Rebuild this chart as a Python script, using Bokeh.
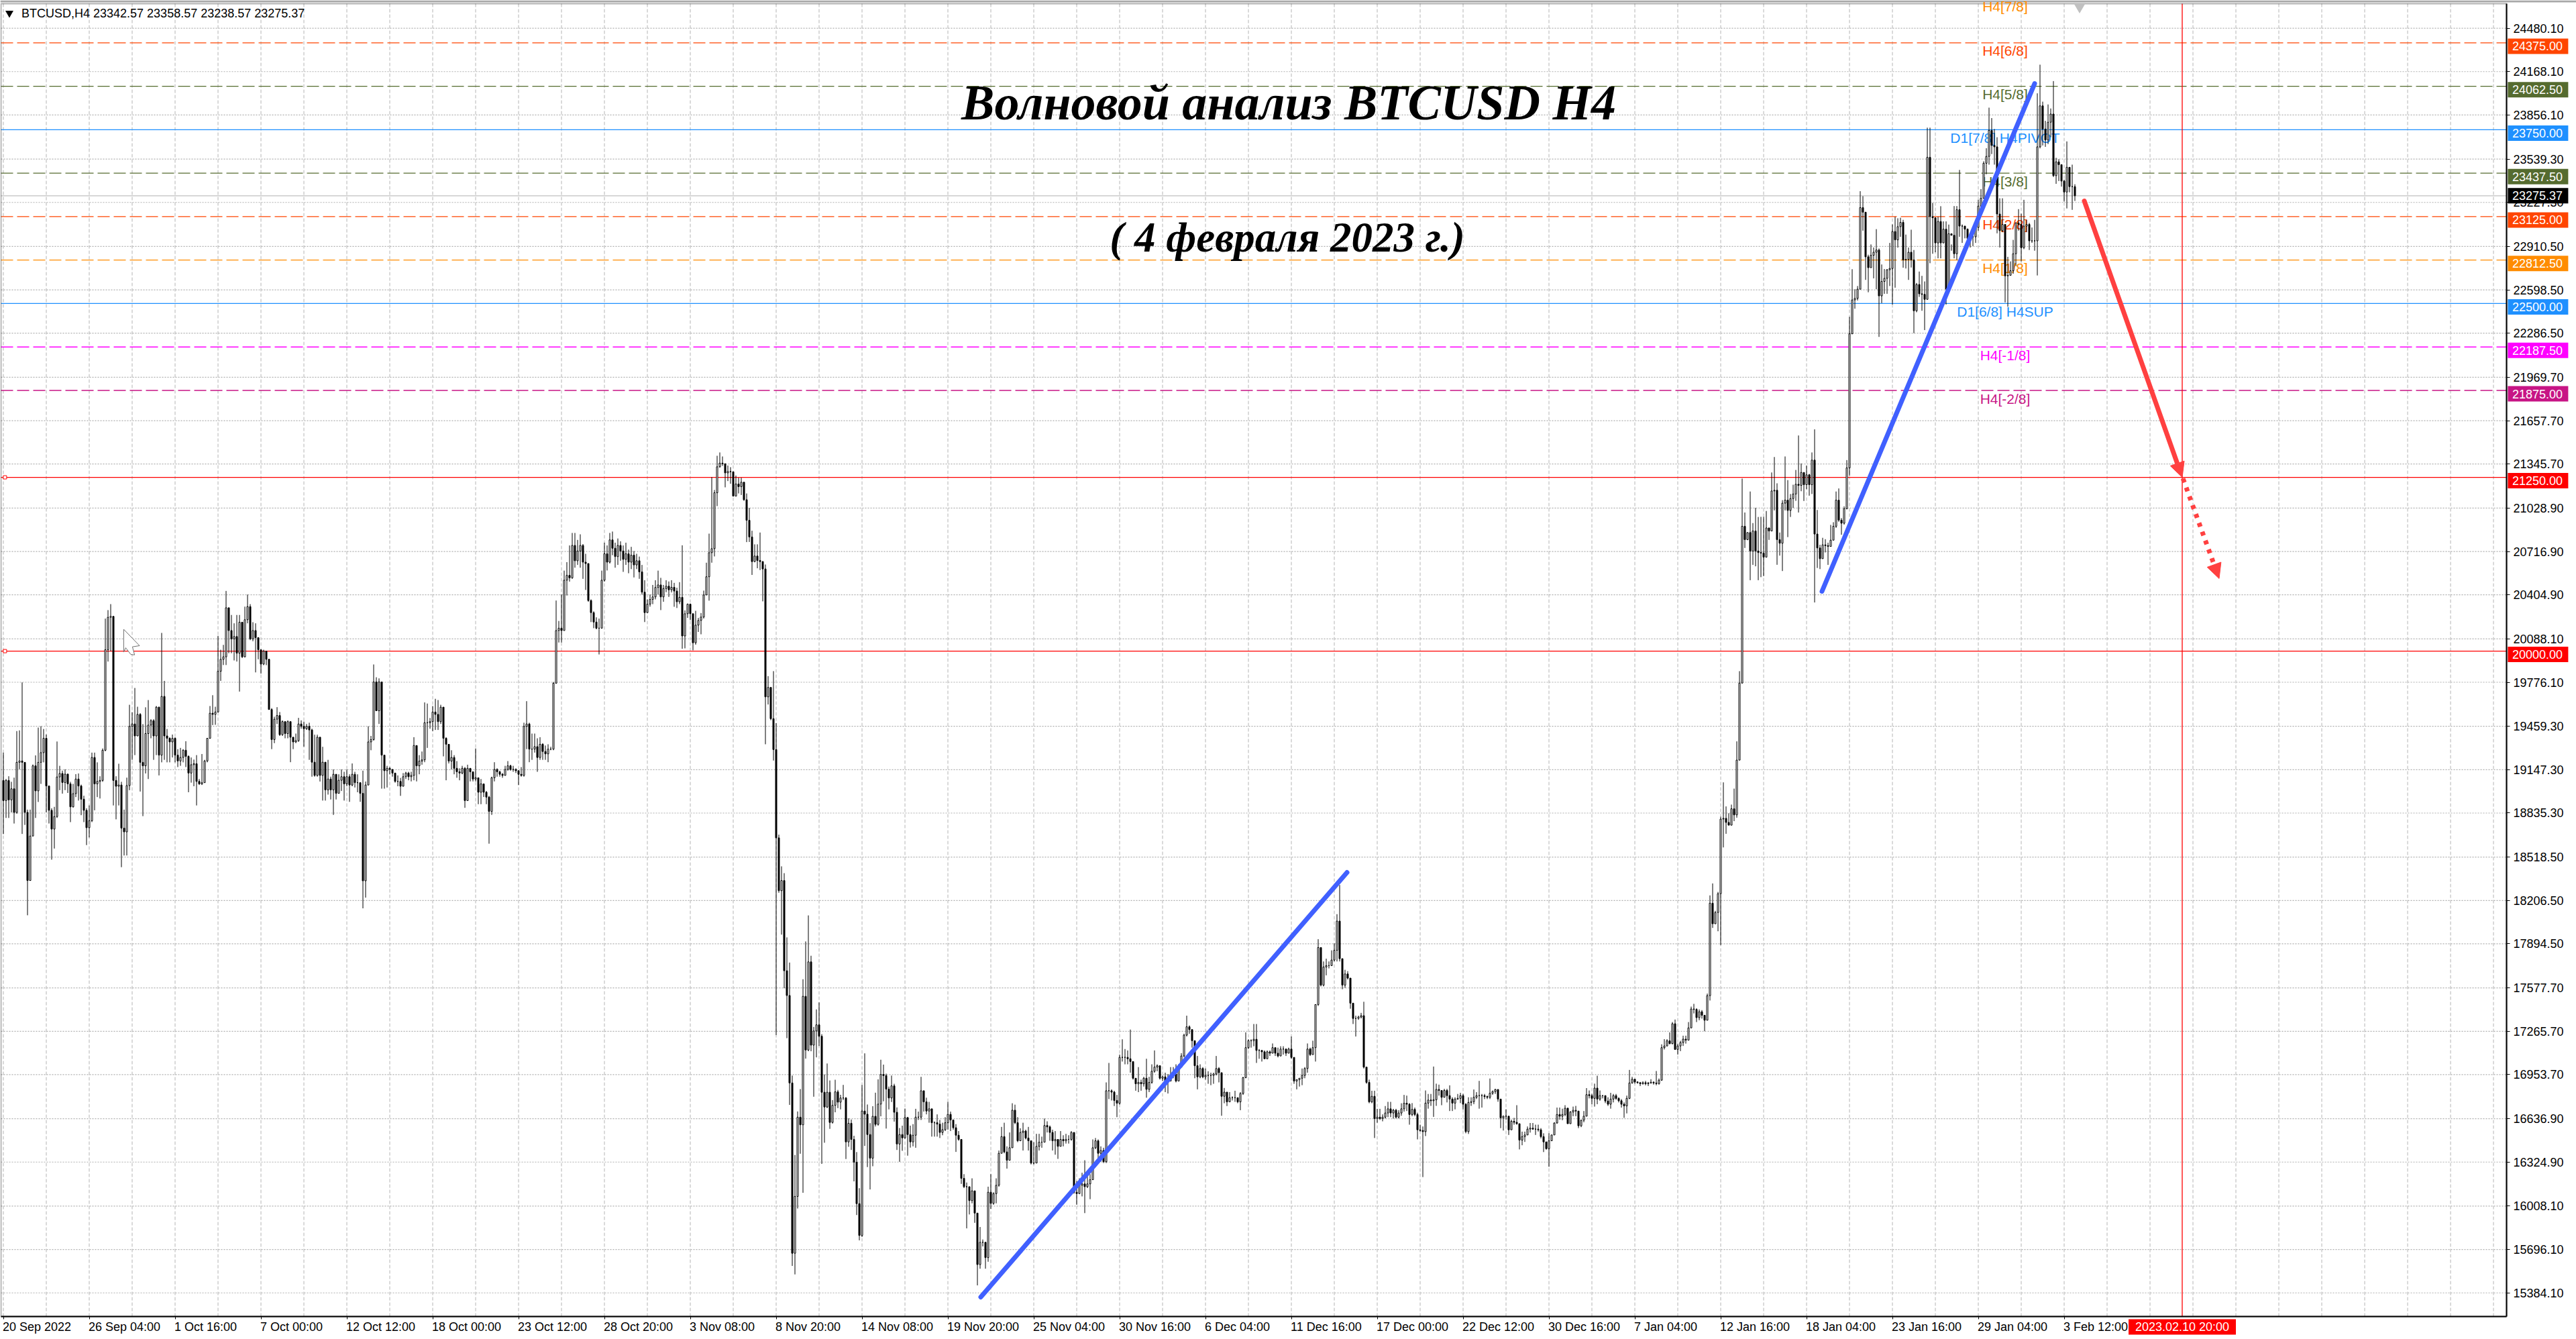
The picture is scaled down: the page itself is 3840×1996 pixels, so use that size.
from bokeh.embed import file_html
from bokeh.resources import INLINE
from bokeh.plotting import figure
from bokeh.models import (Range1d, FixedTicker, LinearAxis, Label, Arrow, NormalHead, BoxAnnotation)

c1 = [18925,19070,18930,19010,18840,19200,19210,19200,18840,18350,18670,19175,18995,19200,19270,19373,19030,18855,18720,18810,19095,19120,19055,19115,19045,18880,18975,19080,19030,18935,18855,18730,18780,19235,19045,19063,19070,19287,20010,20243,20250,19070,19028,19037,18727,18700,19033,19459,19476,19390]
h1 = [19270,19080,19100,19060,19090,19425,19430,19775,19200,18860,18860,19185,19250,19450,19460,19440,19400,19030,18870,18880,19350,19175,19140,19150,19120,19060,19045,19115,19120,19040,18960,18870,18890,19270,19270,19200,19100,19300,20234,20295,20338,20250,19100,19190,19060,18860,19090,19614,19560,19735]
l1 = [18684,18800,18800,18840,18760,18830,19150,18685,18750,18100,18580,18670,18800,18915,19045,19200,18840,18760,18500,18580,18800,19000,18975,19000,18980,18770,18875,18950,18925,18820,18770,18605,18660,18770,18855,18950,18940,19060,19280,19925,20000,18890,18790,18890,18446,18530,18530,19000,19218,19252]

c2 = [19545,19200,19175,19407,19468,19500,19390,19597,19252,19674,19390,19373,19347,19373,19252,19210,19235,19287,19243,19123,19183,19190,19063,19045,19054,19210,19373,19553,19545,19562,19855,19941,19959,20312,20148,20088,20105,19985,20208,19959,20226,20320,20088,20148,20097,20010,19907,20000,19941,19580]
h2 = [19600,19554,19475,19596,19648,19510,19510,19605,19600,20131,19786,19440,19380,19400,19380,19295,19304,19295,19352,19250,19235,19220,19252,19080,19260,19218,19373,19605,19683,19600,20110,20010,20045,20433,20312,20260,20200,20260,20260,20210,20320,20407,20338,20208,20200,20037,20010,20010,20002,19945]
l2 = [19390,18990,18813,19120,19080,19373,19218,19252,19106,19200,19218,19200,19200,19235,19200,19166,19175,19200,19166,18985,19054,19028,18890,19037,19037,19097,19200,19370,19468,19470,19560,19786,19900,19900,19985,19985,19933,19925,19709,19950,19955,20200,20079,20071,19847,19941,19838,19899,19899,19580]

c3 = [19364,19510,19537,19399,19493,19407,19493,19381,19347,19356,19476,19459,19442,19459,19433,19201,19106,19381,19106,19201,19002,19080,19002,19114,18977,19071,19097,19045,19097,19037,19114,19054,19054,18977,18348,19037,19347,19364,19778,19571,19778,19252,19140,19157,19149,19123,19063,19063,19028,19097]
h3 = [19590,19528,19597,19562,19502,19493,19502,19476,19373,19407,19520,19502,19493,19476,19485,19442,19399,19399,19381,19312,19201,19218,19097,19149,19114,19114,19149,19132,19149,19114,19192,19132,19114,19054,19140,19062,19459,19390,19904,19812,19804,19778,19252,19175,19166,19149,19123,19106,19088,19123]
l3 = [19295,19338,19476,19390,19390,19373,19373,19201,19295,19338,19347,19442,19313,19433,19218,19097,19097,19097,19062,18925,18925,18968,18933,18822,18933,18985,18994,18925,19028,18916,19028,19019,18985,18916,18150,18227,19037,19287,19356,19571,19476,19011,19011,19019,19114,19097,19054,19028,18959,19062]

c4 = [19123,19097,19106,19321,19175,19209,19218,19485,19485,19493,19562,19545,19493,19597,19373,19330,19209,19235,19157,19132,19123,19157,18925,19157,19132,19080,19089,18985,19045,18985,18950,18847,19089,19149,19132,19114,19106,19149,19175,19149,19149,19140,19114,19106,19459,19476,19295,19295,19313,19235]
h4 = [19132,19132,19132,19381,19321,19252,19278,19631,19623,19519,19605,19657,19648,19614,19597,19381,19330,19287,19252,19209,19157,19175,19166,19183,19157,19132,19300,19089,19080,19037,18994,18959,19097,19201,19157,19140,19123,19175,19209,19183,19175,19157,19140,19166,19485,19640,19485,19407,19407,19373]
l4 = [19080,19071,19063,19071,19063,19114,19183,19201,19304,19442,19425,19433,19433,19476,19243,19071,19192,19149,19114,19089,19071,19114,18873,18942,19063,19063,19063,18899,18899,18951,18899,18615,18822,19063,19097,19097,19089,19132,19140,19140,19132,19123,19037,19097,19097,19295,19201,19218,19270,19132]

c5 = [19330,19278,19261,19295,19295,19769,20148,20165,20148,20510,20545,20527,20760,20650,20720,20760,20640,20630,20364,20277,20209,20165,20165,20510,20700,20640,20800,20740,20680,20760,20720,20660,20700,20640,20690,20620,20650,20570,20424,20277,20338,20372,20390,20458,20476,20390,20450,20467,20441]
h5 = [19381,19338,19321,19330,19312,19778,20364,20217,20407,20579,20640,20760,20850,20850,20800,20840,20770,20700,20527,20372,20286,20243,20234,20579,20780,20760,20850,20860,20780,20810,20790,20760,20780,20730,20750,20720,20700,20680,20620,20510,20372,20407,20476,20510,20579,20527,20476,20510,20501]
l5 = [19218,19218,19218,19201,19287,19287,19769,20062,20062,20157,20400,20500,20520,20600,20620,20600,20520,20440,20355,20209,20165,20157,19976,20165,20500,20580,20630,20690,20600,20620,20650,20570,20620,20560,20590,20530,20590,20520,20407,20209,20277,20320,20338,20372,20407,20295,20355,20424,20390]

c6 = [20459,20432,20355,20387,20109,20269,20338,20269,20060,20187,20221,20245,20404,20535,20708,20737,21139,21326,21352,21348,21282,21292,21290,21115,21202,21183,21215,21089,20941,20821,20644,20684,20652,20644,20591,19671,19739,19514,19292,18657,18277,18350,17701,17523,16894,15669,16078,16648,16593,17517]
h6 = [20510,20491,20456,20496,20761,20293,20342,20342,20269,20290,20239,20274,20435,20636,20845,21252,21159,21405,21429,21400,21311,21335,21323,21239,21263,21247,21247,21212,21134,21030,20866,20768,20768,20853,20647,20623,19820,19739,19856,19482,18680,18452,18403,17941,17760,16947,16376,16689,16850,17640]
l6 = [20422,20319,20310,20338,20017,20020,20239,20223,20006,20046,20138,20121,20234,20403,20363,20636,20681,21043,21319,21332,21178,21223,21204,21112,21114,21134,21123,21081,20784,20785,20548,20639,20596,20583,20358,19330,19616,19503,19213,17239,18262,17961,17575,17216,16736,15578,15517,15991,16385,16104]

c7 = [17131,17765,17166,17268,17312,17230,16827,16721,16827,16610,16733,16830,16756,16786,16786,16470,16604,16488,16324,16026,15797,16692,16669,16523,16353,16654,16596,16742,16955,16947,16850,16786,16873,16683,16455,16523,16499,16645,16523,16470]
h7 = [17912,18099,17809,17297,17423,17473,17245,16955,17034,16912,16771,16917,16844,16809,16880,16792,16640,16631,16514,16397,16137,16879,17107,16739,16605,16727,16824,16920,17061,17026,16961,16868,16947,16888,16718,16570,16587,16710,16650,16587]
l7 = [17069,17122,17122,16795,17078,17160,16312,16464,16713,16564,16602,16683,16713,16704,16771,16347,16435,16412,16186,15944,15762,15786,16441,16289,16128,16295,16581,16587,16654,16762,16566,16704,16757,16616,16412,16327,16406,16493,16371,16429]

c8 = [16518,16648,16648,16838,16758,16692,16708,16608,16608,16598,16538,16558,16608,16668,16628,16572,16518,16488,16208,16148,16148,16048,16118,15958,15588,15748,15748,15638,16108,16028,16098,16158,16388,16508,16398,16338,16428,16698,16608,16478,16538,16548,16498,16478,16318,16318,16438,16468,16468,16588,16578,16538,16478,16488,16438,16488,16478,16488,16488,16538,16108,16098,16158,16168,16148,16168,16198,16428,16478,16388,16408,16328,16838,16838,16828,16768,16748,17078,17078,17078,17068,17048,16928,16888,16898,16888,16928,16848,16898,16978,17008,17018,16928,16938,16908,16908,16948,16958,16908,17008,17088,17238,17298,17278,17198,17018,16938,16998,16938,16948,16948,16948,16958,16998,16968,16798,16828,16758,16788,16788,16788,16758,16818,16932,17148,17198,17198,17208,17128,17128,17118,17068,17118,17108,17148,17108,17088,17138,17138,17108,17138,17078,16908,16918,16928,16948,16998,17138,17098,17148,17458,17868,17598,17728,17738,17738,17778,17848,18058,17788,17598,17678,17648,17468,17358,17358,17368,17378,17008,16898,16758,16798,16638,16648,16638,16648,16678,16708,16678,16698,16648,16678,16708,16748]
h8 = [16598,16708,16688,16938,16818,16788,16758,16708,16618,16668,16628,16608,16648,16758,16688,16628,16598,16548,16488,16238,16178,16148,16208,16118,15958,15858,15768,15748,16148,16238,16108,16208,16408,16578,16608,16438,16538,16748,16738,16648,16568,16608,16558,16578,16478,16468,16528,16528,16508,16638,16618,16588,16558,16548,16478,16548,16518,16528,16518,16548,16538,16188,16208,16248,16338,16228,16238,16488,16498,16488,16438,16428,16898,17038,16848,16838,16808,17098,17208,17138,17128,17278,17048,16928,17008,16918,16938,17068,16938,17028,17128,17028,17008,16948,16968,16958,17008,17008,17028,17028,17108,17248,17378,17308,17278,17198,17088,17028,17008,16998,16978,16968,16968,17088,17008,16968,16858,16828,16828,16798,16838,16788,16828,16938,17258,17208,17208,17318,17318,17138,17128,17128,17128,17128,17178,17148,17148,17158,17158,17138,17148,17228,17078,16918,16928,16998,17008,17178,17148,17198,17458,17928,17868,17768,17788,17768,17848,17898,18108,18318,17788,17708,17698,17648,17468,17378,17378,17398,17478,17008,16918,16838,16838,16708,16708,16668,16728,16758,16758,16708,16708,16698,16748,16808]
l8 = [16438,16428,16628,16628,16688,16668,16608,16508,16508,16508,16498,16518,16548,16558,16548,16558,16398,16478,16168,16138,15848,15948,16028,15888,15438,15558,15718,15558,15608,15988,16018,16028,16148,16398,16388,16278,16338,16428,16598,16468,16488,16408,16488,16408,16308,16308,16358,16408,16428,16468,16538,16478,16408,16378,16348,16438,16438,16458,16458,16478,16098,16018,16108,16078,15958,16138,16058,16198,16418,16328,16328,16318,16318,16778,16768,16728,16648,16738,17048,17028,17028,16968,16918,16838,16828,16838,16868,16788,16828,16888,16968,16978,16918,16908,16828,16818,16918,16928,16898,16908,17008,17078,17228,17248,17148,16928,16848,16928,16928,16918,16888,16878,16888,16948,16898,16658,16748,16728,16758,16768,16758,16748,16698,16808,16928,17138,17148,17158,17038,17068,17048,17068,17078,17088,17108,17088,17078,17108,17098,17088,17118,17068,16888,16848,16868,16878,16928,16968,17088,17098,17048,17448,17588,17588,17668,17718,17738,17768,17768,17768,17568,17578,17638,17428,17318,17228,17348,17358,16998,16888,16748,16748,16498,16608,16628,16618,16638,16648,16648,16638,16638,16638,16658,16688]

c9 = [16741,16667,16704,16667,16557,16552,16544,16749,16771,16766,16773,16847,16840,16791,16840,16803,16778,16749,16778,16783,16803,16741,16544,16754,16759,16791,16803,16803,16803,16796,16791,16820,16832,16847,16778,16643,16655,16655,16557,16618,16611,16601,16483,16508,16520,16562,16569,16562,16562,16557,16508,16470,16421,16478,16520,16606,16667,16655,16667,16712,16601,16685,16697,16692,16586,16626,16655,16810,16803,16783,16857,16778,16803,16803,16764,16741,16778,16803,16783,16766,16741,16729,16783,16894,16921,16901,16896,16889,16896,16889,16894,16899,16894,16889,16914,17148,17160,17197,17177,17320,17135,17160,17185,17209,17202,17290,17426,17423,17364,17406,17381,17345,17522,18187,18039,18120,18255,18792,18797,18768,18748,18866,18822,19216,19770]
h9 = [16803,16749,16749,16717,16680,16594,16581,16840,16815,16815,17012,16889,16882,16840,16852,16852,16877,16791,16791,16815,16823,16815,16749,16791,16791,16847,16828,16909,16815,16815,16803,16926,16840,16852,16847,16778,16660,16704,16655,16630,16643,16734,16601,16544,16544,16581,16606,16606,16594,16594,16569,16532,16470,16532,16520,16611,16717,16717,16709,16734,16717,16692,16724,16729,16680,16630,16692,16857,16840,16815,16889,16946,16840,16803,16803,16791,16823,16815,16815,16791,16778,16754,16803,16988,16938,16914,16906,16901,16906,16909,16901,16921,16906,16980,16926,17172,17209,17209,17258,17332,17350,17177,17197,17234,17234,17332,17443,17463,17431,17423,17418,17381,17537,18243,18329,18132,18268,18809,19056,18883,18834,18896,19011,19351,19856]
l9 = [16692,16594,16655,16655,16488,16544,16217,16512,16709,16729,16650,16729,16803,16734,16791,16754,16692,16692,16704,16773,16749,16704,16532,16527,16729,16741,16778,16709,16717,16778,16778,16778,16808,16815,16759,16569,16552,16630,16520,16557,16594,16594,16416,16446,16470,16520,16537,16557,16520,16544,16495,16397,16414,16291,16478,16569,16601,16630,16626,16655,16601,16626,16655,16655,16569,16576,16611,16655,16783,16741,16724,16741,16766,16783,16749,16729,16709,16754,16773,16754,16717,16643,16675,16778,16889,16889,16889,16872,16882,16877,16872,16889,16882,16877,16882,16909,17135,17160,17172,17172,17135,17098,17123,17160,17177,17202,17290,17394,17332,17345,17357,17266,17345,17487,18009,18039,17985,17886,18588,18686,18748,18748,18777,18802,19216]

c10 = [20898,20802,20853,20720,20864,20720,20709,20705,20676,20886,20864,21152,21157,20802,20776,21064,21086,21012,21097,21130,21200,21192,21285,21197,21268,21197,21374,20842,20742,20665,20764,20759,20753,20798,20898,21086,20942,20920,21024,21318,22282,22526,22537,22603,23190,23157,22836,22758,22847,22869,22885,22555,22659,22681,22743,22752,23018,22958,23053,23084,22814,22818,22869,22814,22448,22637,22570,22566,22530,23552,23125,23117,22936,23090,22936,23035,22603,23002,22991,22858,23175,23057,23057,23035,22969,22980,22980,23047,23201,23257,23509,23558,23745,23637,23627,23144,23024,23069,22699,22703,22736,22858,23080,23069,22902,23057,23069,22951,22951,22951,23627,23922,23755,23676,23804,23863,23420,23519,23499,23381,23302,23480,23341,23341,23275]
h10 = [21241,20997,20853,21148,20921,21031,20965,20966,20966,21008,20886,21285,21396,21207,20853,21086,21400,21230,21130,21197,21303,21551,21350,21281,21334,21275,21429,21595,21015,20765,20815,20805,20780,20908,20927,21148,21170,20957,21041,21374,22404,22747,22603,22626,23308,23272,23157,22851,22925,22903,23035,22896,22781,22748,22748,22936,23069,23124,23113,23117,23102,22996,22903,23031,22885,22648,22730,22699,22659,23765,23765,23224,23117,23124,23200,23091,23091,23068,22925,23201,23201,23461,23069,23058,23040,23002,23024,23069,23246,23323,23523,23617,23909,23834,23755,23696,23257,23257,23069,22836,22803,22958,23084,23179,23146,23246,23102,23080,23047,23102,24012,24218,23952,23814,23932,23903,24100,23548,23538,23499,23391,23666,23480,23499,23358]
l10 = [20050,20742,20798,20510,20620,20610,20510,20532,20540,20880,20800,20865,21012,20621,20687,20576,21012,20820,20965,21030,21081,20997,21150,21080,21165,21118,21130,20350,20598,20590,20665,20710,20620,20765,20798,20886,20930,20837,20910,21020,21262,22282,22463,22522,22840,23024,22670,22581,22759,22681,22603,22260,22503,22570,22570,22626,22493,22614,22902,22980,22758,22752,22670,22759,22287,22437,22548,22448,22309,22530,22790,22858,22869,22825,22825,22946,22493,22593,22880,22825,22814,22980,22936,22969,22913,22903,22913,22936,23024,23190,23257,23430,23499,23575,23499,23005,22903,23013,22508,22477,22714,22714,22770,23024,22803,22891,23013,22885,22936,22880,22702,23616,23637,23627,23647,23696,23410,23361,23381,23341,23233,23184,23300,23174,23238]

first_open = 19070
bid = 23275.37
legend_text = "BTCUSD,H4  23342.57 23358.57 23238.57 23275.37"
title_text = "Волновой анализ BTCUSD H4"
subtitle_text = "( 4 февраля 2023 г.)"

price_ticks = [24480.10,24168.10,23856.10,23539.30,23227.30,22910.50,22598.50,22286.50,21969.70,21657.70,21345.70,21028.90,20716.90,20404.90,20088.10,19776.10,19459.30,19147.30,18835.30,18518.50,18206.50,17894.50,17577.70,17265.70,16953.70,16636.90,16324.90,16008.10,15696.10,15384.10]
date_labels = ["20 Sep 2022","26 Sep 04:00","1 Oct 16:00","7 Oct 00:00","12 Oct 12:00","18 Oct 00:00","23 Oct 12:00","28 Oct 20:00","3 Nov 08:00","8 Nov 20:00","14 Nov 08:00","19 Nov 20:00","25 Nov 04:00","30 Nov 16:00","6 Dec 04:00","11 Dec 16:00","17 Dec 00:00","22 Dec 12:00","30 Dec 16:00","7 Jan 04:00","12 Jan 16:00","18 Jan 04:00","23 Jan 16:00","29 Jan 04:00","3 Feb 12:00"]
date_bars = [32 * i for i in range(len(date_labels))]
grid_bars = [16 * i for i in range(59)]

level_prices = [24375.0,24062.5,23750.0,23437.5,23125.0,22812.5,22500.0,22187.5,21875.0]
level_colors = ["#FF4500","#556B2F","#1E90FF","#556B2F","#FF4500","#FF8C00","#1E90FF","#FF00FF","#C71585"]
level_names = ["H4[6/8]","H4[5/8]","D1[7/8] H4PIVOT","H4[3/8]","H4[2/8]","H4[1/8]","D1[6/8] H4SUP","H4[-1/8]","H4[-2/8]"]
level_solid = [False,False,True,False,False,False,True,False,False]
top_level_price = 24635.0
top_level_name = "H4[7/8]"
red_levels = [21250.0, 20000.0]
forecast_bar = 812
forecast_label = "2023.02.10 20:00"

wave1_bars = [364.25, 500.75]
wave1_prices = [15354, 18408]
wave2_bars = [677.75, 757.0]
wave2_prices = [20430, 24082]
arrow1 = (775.5, 23238, 812.0, 21250)
arrow2 = (812.3, 21240, 825.75, 20522)
cursor_bars = [44.85, 50.75, 48.1, 48.9, 47.5, 45.6, 44.85]
cursor_prices = [20157, 20039, 20031, 19973, 19976, 20024, 19993]

closes, highs, lows = [], [], []
for c, h, l in [(c1,h1,l1),(c2,h2,l2),(c3,h3,l3),(c4,h4,l4),(c5,h5,l5),(c6,h6,l6),(c7,h7,l7),(c8,h8,l8),(c9,h9,l9),(c10,h10,l10)]:
    n = min(len(c), len(h), len(l))
    closes += c[:n]; highs += h[:n]; lows += l[:n]
opens = [first_open] + closes[:-1]
bars = list(range(len(closes)))

FONT = "Liberation Sans"
X0, X1, Y0, Y1 = -0.875, 932.875, 15213.8, 24656.7

p = figure(width=3840, height=1996, output_backend="svg", toolbar_location=None,
           x_range=Range1d(-1.125, 958.875), y_range=Range1d(15050.0, 24680.8),
           x_axis_location=None, y_axis_location=None,
           min_border_left=0, min_border_right=0, min_border_top=0, min_border_bottom=0,
           margin=(0, 0, 0, 0), background_fill_color="white", border_fill_color="white",
           outline_line_color=None)
p.grid.visible = False

bottom = LinearAxis(ticker=FixedTicker(ticks=date_bars), fixed_location=Y0, bounds=(X0, X1),
                    major_label_text_color=None, major_label_text_font_size="1px",
                    major_tick_in=0, major_tick_out=4, minor_tick_line_color=None,
                    axis_line_color="black", axis_line_width=2, major_tick_line_color="black")
p.add_layout(bottom, "below")
right = LinearAxis(ticker=FixedTicker(ticks=price_ticks), fixed_location=X1, bounds=(Y0, Y1),
                   major_label_overrides={t: f"{t:.2f}" for t in price_ticks},
                   major_label_text_font=FONT, major_label_text_font_size="18px",
                   major_label_text_color="black", major_label_standoff=5,
                   major_tick_in=0, major_tick_out=5, minor_tick_line_color=None,
                   axis_line_color="black", axis_line_width=2, major_tick_line_color="black")
p.add_layout(right, "right")

p.text(x=date_bars, y=[15139.0] * len(date_bars), text=date_labels, text_font={"value": FONT},
       text_font_size="18px", text_color="black", text_align="left", text_baseline="middle", x_offset=-1)

# window strip and chart frame
p.add_layout(BoxAnnotation(bottom=24666.0, fill_color="#A8A8A8", fill_alpha=1, line_color=None, level="underlay"))
p.add_layout(BoxAnnotation(left=X0, right=X1, bottom=Y0, top=Y1, fill_color=None, line_color="black", line_width=2, level="underlay"))

p.segment(grid_bars, [Y0] * len(grid_bars), grid_bars, [Y1] * len(grid_bars),
          line_color="#B4B4B4", line_dash="5 3", line_width=1, level="underlay")
p.segment([X0] * len(price_ticks), price_ticks, [X1] * len(price_ticks), price_ticks,
          line_color="#B0B0B0", line_dash="2 2", line_width=1.2, level="underlay")

USD_PER_PX = (24680.8 - 15050.0) / 1996
BADGE_CX, BADGE_TX = 944.6, 935.0
badges = []
def badge(price, text, color, down_px=5.0):
    centre = price - down_px * USD_PER_PX
    badges.append((centre, text, color))

for price, color, name, solid in zip(level_prices, level_colors, level_names, level_solid):
    p.segment([X0], [price], [X1], [price], line_color=color, line_width=1.3,
              line_dash="solid" if solid else "18 6", level="underlay")
    p.add_layout(Label(x=746, y=price, text=name, text_color=color, text_font=FONT,
                       text_font_size="21px", text_align="center", text_baseline="middle",
                       y_offset=-12, level="underlay"))
    badge(price, f"{price:.2f}", color)
p.add_layout(Label(x=746, y=top_level_price, text=top_level_name, text_color="#FF8C00", text_font=FONT,
                   text_font_size="21px", text_align="center", text_baseline="middle", level="underlay"))

for price in red_levels:
    p.segment([X0], [price], [X1], [price], line_color="#FF0000", line_width=1.3, level="underlay")
    badge(price, f"{price:.2f}", "#FF0000")
p.scatter(x=[0.6, 0.6], y=red_levels, marker="square", size=5, fill_color="white", line_color="#FF0000")
p.segment([X0], [bid], [X1], [bid], line_color="#C0C0C0", line_width=1.3, level="underlay")
p.segment([forecast_bar], [Y0], [forecast_bar], [Y1], line_color="#FF0000", line_width=1.3, level="underlay")

p.segment(bars, lows, bars, highs, line_color="black", line_width=1)
up = [i for i in bars if closes[i] >= opens[i]]
down = [i for i in bars if closes[i] < opens[i]]
p.vbar(x=up, top=[closes[i] for i in up], bottom=[opens[i] for i in up], width=0.5,
       fill_color="white", line_color="black", line_width=1)
p.vbar(x=down, top=[opens[i] for i in down], bottom=[closes[i] for i in down], width=0.5,
       fill_color="black", line_color="black", line_width=1)

p.line(wave1_bars, wave1_prices, line_color="#4060FF", line_width=7, line_cap="round")
p.line(wave2_bars, wave2_prices, line_color="#4060FF", line_width=7, line_cap="round")
p.add_layout(Arrow(x_start=arrow1[0], y_start=arrow1[1], x_end=arrow1[2], y_end=arrow1[3],
                   line_color="#FF4040", line_width=7, line_cap="round",
                   end=NormalHead(size=22, fill_color="#FF4040", line_color="#FF4040", line_width=1)))
p.add_layout(Arrow(x_start=arrow2[0], y_start=arrow2[1], x_end=arrow2[2], y_end=arrow2[3],
                   line_color="#FF4040", line_width=7, line_dash="6 8",
                   end=NormalHead(size=22, fill_color="#FF4040", line_color="#FF4040", line_width=1)))

p.patch(cursor_bars, cursor_prices, fill_color="white", line_color="#707070", line_width=1)
p.scatter(x=[773.75], y=[24637], marker="inverted_triangle", size=18, fill_color="#C0C0C0", line_color=None)
p.scatter(x=[2.25], y=[24589], marker="inverted_triangle", size=12, fill_color="black", line_color=None)

p.add_layout(Label(x=6.75, y=24589, text=legend_text, text_font=FONT, text_font_size="18px",
                   text_color="black", text_baseline="middle", text_align="left"))
p.add_layout(Label(x=479, y=23942.6, text=title_text, text_font="Liberation Serif", text_font_style="bold italic",
                   text_font_size="74px", text_color="black", text_baseline="middle", text_align="center"))
p.add_layout(Label(x=478.5, y=22973, text=subtitle_text, text_font="Liberation Serif", text_font_style="bold italic",
                   text_font_size="63px", text_color="black", text_baseline="middle", text_align="center"))

badge(bid, f"{bid:.2f}", "black", down_px=0.0)
for centre, text, color in badges:
    p.rect(x=[BADGE_CX], y=[centre], width=90, width_units="screen", height=23, height_units="screen",
           fill_color=color, line_color=None, level="overlay")
    p.text(x=[BADGE_TX], y=[centre], text=[text], text_font={"value": FONT}, text_font_size="18px",
           text_color="white", text_align="left", text_baseline="middle", level="overlay")
p.rect(x=[forecast_bar], y=[15139.0], width=160, width_units="screen", height=23, height_units="screen",
       fill_color="#FF0000", line_color=None, level="overlay")
p.text(x=[forecast_bar], y=[15139.0], text=[forecast_label], text_font={"value": FONT}, text_font_size="18px",
       text_color="white", text_align="center", text_baseline="middle", level="overlay")

open("out.html", "w").write(file_html(p, INLINE))
